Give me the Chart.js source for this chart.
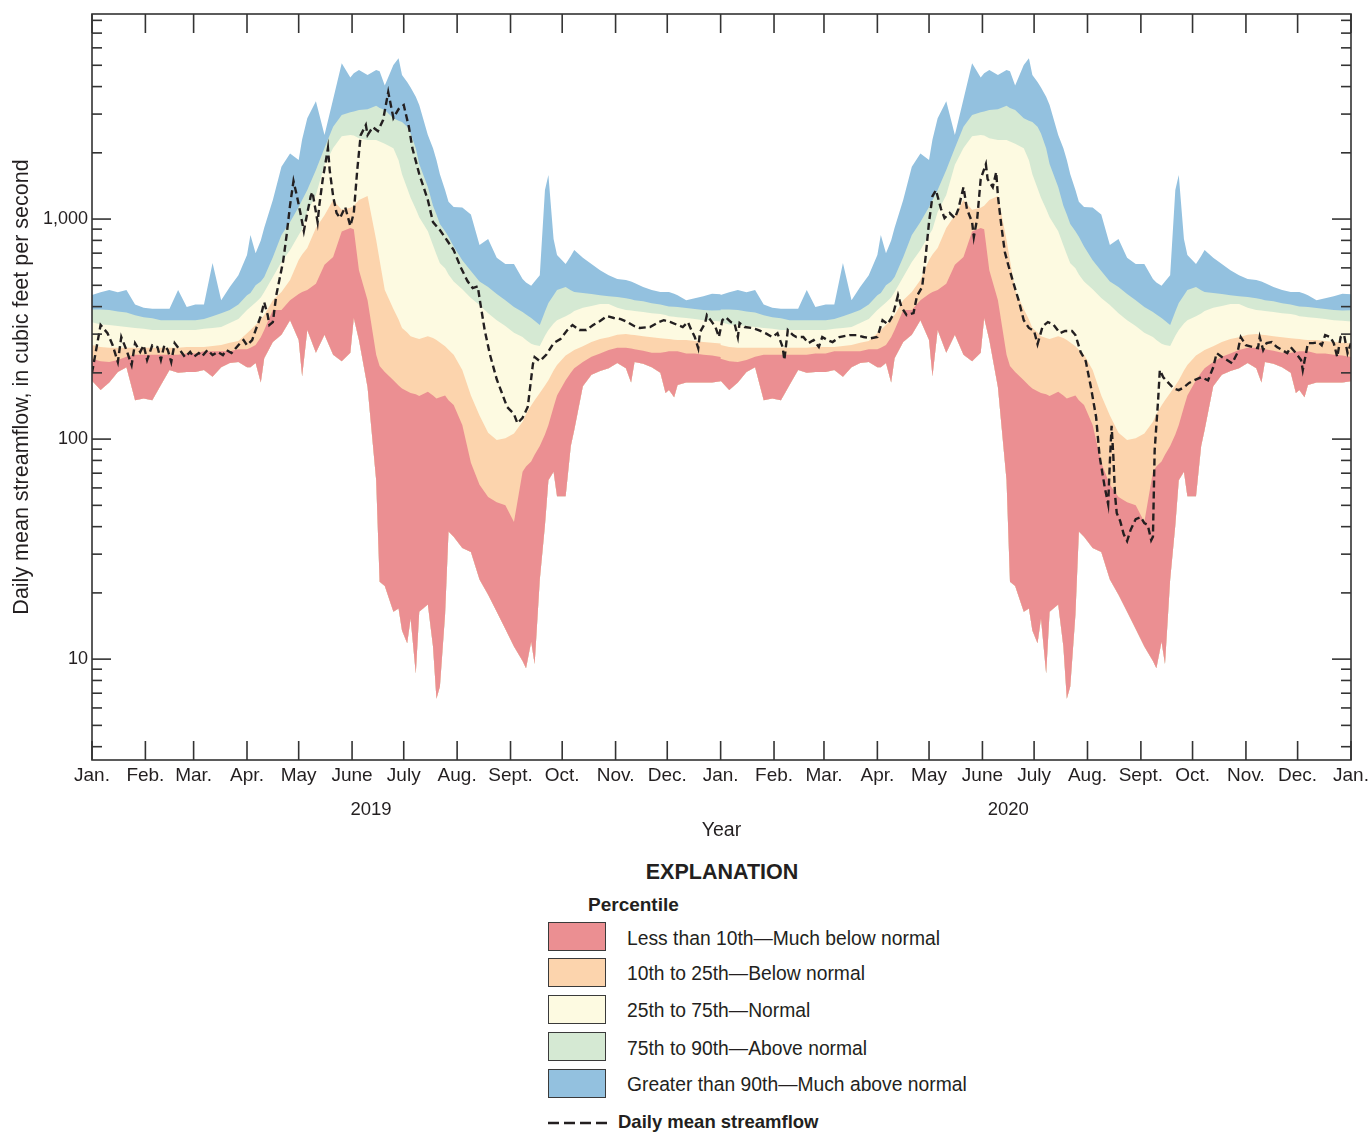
<!DOCTYPE html>
<html><head><meta charset="utf-8">
<script src="https://cdn.jsdelivr.net/npm/chart.js@4.4.1/dist/chart.umd.min.js"></script>
<style>
body{margin:0;background:#fff;}
#wrap{position:relative;width:1370px;height:1133px;font-family:"Liberation Sans",Arial,sans-serif;color:#231f20;overflow:hidden;}
#cv{position:absolute;left:0;top:0;}
.lg{position:absolute;white-space:nowrap;line-height:1;}
.box{position:absolute;left:548px;width:58px;height:29px;box-sizing:border-box;border:1.5px solid #3a3a3a;}
</style></head>
<body><div id="wrap">
<canvas id="cv" width="1370" height="850"></canvas>
<div class="lg" style="left:622px;width:200px;text-align:center;top:862px;font-weight:bold;font-size:21.5px;">EXPLANATION</div>
<div class="lg" style="left:588px;top:895px;font-weight:bold;font-size:19px;">Percentile</div>
<div class="box" style="top:922px;background:#eb8f92"></div>
<div class="box" style="top:958px;background:#fcd4ad"></div>
<div class="box" style="top:995px;background:#fdfae1"></div>
<div class="box" style="top:1032px;background:#d5e9d3"></div>
<div class="box" style="top:1069px;background:#93c1df"></div>
<div class="lg" style="left:627px;top:929px;font-size:19.3px;">Less than 10th—Much below normal</div>
<div class="lg" style="left:627px;top:964px;font-size:19.3px;">10th to 25th—Below normal</div>
<div class="lg" style="left:627px;top:1001px;font-size:19.3px;">25th to 75th—Normal</div>
<div class="lg" style="left:627px;top:1039px;font-size:19.3px;">75th to 90th—Above normal</div>
<div class="lg" style="left:627px;top:1075px;font-size:19.3px;">Greater than 90th—Much above normal</div>
<svg style="position:absolute;left:548px;top:1118px" width="62" height="10"><line x1="0" y1="5" x2="60" y2="5" stroke="#231f20" stroke-width="2.4" stroke-dasharray="11,5"/></svg>
<div class="lg" style="left:618px;top:1113px;font-weight:bold;font-size:18.5px;">Daily mean streamflow</div>
</div>
<script>
// ---------- axis / label data ----------
const monthLabels = ['Jan.','Feb.','Mar.','Apr.','May','June','July','Aug.','Sept.','Oct.','Nov.','Dec.',
                     'Jan.','Feb.','Mar.','Apr.','May','June','July','Aug.','Sept.','Oct.','Nov.','Dec.','Jan.'];
const monthStartDays = [0,31,59,90,120,151,181,212,243,273,304,334,365,396,425,456,486,517,547,578,609,639,670,700,731];
const yearLabels = ['2019','2020'];
const yearLabelDays = [162,532];
const yLabelValues = [10,100,1000];
const yLabelTexts = ['10','100','1,000'];
const yTickValues = [4,5,6,7,8,9,10,20,30,40,50,60,70,80,90,100,200,300,400,500,600,700,800,900,1000,2000,3000,4000,5000,6000,7000,8000];

// ---------- daily percentile statistics (by day of year) ----------
const bandDoy = [0,5,10,15,20,25,30,35,40,45,50,55,60,65,70,75,80,85,90,92,95,98,100,105,110,115,120,122,125,130,135,140,145,150,152,155,160,165,167,170,175,178,180,183,185,188,190,195,198,200,202,205,207,210,215,220,225,230,235,240,245,250,252,255,257,260,263,265,268,270,275,278,280,285,290,295,300,305,310,313,315,320,325,330,333,335,338,340,345,350,355,360,365];
const bandMax = [452,465,476,465,476,409,395,391,391,391, 476,398,409,409,631,428,491,555,687,847, 699,800,914,1220,1730,1984,1854,2300,2871,3429, 2408,3500,5100,4400,4600,4756,4510,4756,4700,4050, 5012,5380,4510,4200,3960,3600,3300,2408,2100,1854, 1600,1354,1200,1136,1130,1050,762,812,667,625, 625,534,515,498,520,555,1354,1585,812,687, 625,680,723,667,625,586,555,534,528,520, 512,491,476,466,466,466,458,451,428,437, 446,458,455];
const bandP90 = [388,388,386,380,376,365,358,354,347,347, 347,347,347,351,362,373,386,409,451,461, 500,520,545,670,847,970,1136,1220,1354,1670, 2102,2627,2970,3060,3080,3129,3159,3270,3200,3129, 2871,2800,2760,2627,2450,2100,1780,1400,1150,1050, 950,880,830,750,650,580,520,491,457,428, 398,378,368,355,345,330,380,415,450,476, 491,475,466,461,457,451,446,442,437,432, 428,423,414,409,404,400,399,398,394,390, 386,384,385];
const bandP75 = [340,332,330,327,323,320,317,313,313,313, 313,313,313,317,320,323,337,351,386,398, 418,440,466,545,638,723,847,900,1076,1288, 1766,2102,2380,2408,2400,2330,2286,2286,2250,2200, 2100,1850,1600,1380,1250,1110,1020,880,760,690, 630,598,560,520,480,438,407,373,347,327, 304,291,282,271,268,265,295,313,335,347, 362,372,382,395,403,411,411,395,386,384, 382,378,373,370,366,362,360,358,355,351, 347,345,342];
const bandP25 = [268,262,260,260,260,260,260,260,260,260, 260,262,262,262,265,268,274,279,303,313, 330,350,366,428,466,528,651,690,738,910, 1040,1220,1103,1125,1150,1220,1272,803,650,476, 390,350,320,305,293,288,285,293,288,282, 275,264,255,242,206,158,128,107,99,101, 106,120,130,142,150,162,175,185,205,217, 240,248,254,264,276,285,290,298,300,298, 297,293,290,287,286,285,283,282,282,279, 276,274,272];
const bandP10 = [232,226,224,229,237,242,242,242,242,242, 242,245,245,251,251,251,251,256,256,260, 268,290,313,386,386,428,457,466,476,508, 620,672,879,910,900,586,428,242,215,202, 185,175,170,165,162,160,157,164,158,153, 155,158,150,143,116,78,62,54.6,51.6,50, 42,71,75,79,85,93,105,116,140,158, 185,200,210,224,237,245,254,260,260,258, 256,252,247,247,249,251,251,251,245,245, 242,240,236];
const bandMin = [184,167,181,202,212,150,153,150,176,206, 200,202,202,206,192,212,222,224,212,212, 222,181,233,276,298,347,282,193,313,247, 298,242,226,247,355,282,172,65,22.5,21.5, 16.4,17,13.5,11.8,15.3,8.6,16.4,17.7,11.4,6.6, 7.5,16,38,36,32,30.7,23,19.6,16.4,13.7, 11.4,9.8,9.1,12,9.5,23,40.7,65,71,55, 55,93,110,174,196,204,210,222,210,181, 224,220,212,200,162,167,155,176,181,181, 181,181,183];

// ---------- daily mean streamflow (day 0 = Jan. 1, 2019) ----------
const flowDays = [0,5,9,12,15,17,20,23,25,28,30,32,35,38,40,42,44,46,48,51,54,57,59,62,64,67,70,73,76,78,81,86,88,90,93,95,98,100,102,103,105,107,109,111,113,115,117,119,121,123,125,127,128,131,132,134,137,138,140,142,144,147,150,152,154,156,159,160,163,166,169,172,175,178,181,184,186,190,195,198,202,206,210,214,218,221,224,225,228,231,235,238,241,245,247,250,253,256,257,260,264,268,272,276,279,283,287,291,295,299,303,307,311,315,318,324,329,332,336,340,343,346,348,350,352,353,356,357,360,362,364,
 366,368,371,373,375,376,379,383,387,391,395,398,401,402,404,407,409,413,416,419,422,424,427,430,434,440,444,448,452,456,459,462,465,468,470,473,477,479,482,484,486,488,490,493,495,498,501,503,506,508,511,512,514,516,519,520,523,525,526,528,530,532,535,538,541,544,547,549,552,555,558,562,565,569,571,574,577,580,583,585,588,590,591,592,593,594,595,597,599,601,603,606,609,611,613,615,616,617,619,620,622,625,628,631,634,637,640,644,648,651,653,656,659,662,665,667,670,674,677,678,680,682,685,688,691,694,696,699,702,703,706,709,712,714,716,719,721,723,725,727,729,731];
const flowValues = [200,330,303,267,224,291,254,217,273,249,267,229,267,262,229,267,254,224,273,254,236,249,236,246,238,254,241,249,241,254,246,273,282,267,282,313,362,419,366,330,340,451,539,644,846,1158,1488,1272,1065,882,1065,1272,1327,969,1158,1520,2102,1670,1272,1065,1010,1134,930,1065,1670,2408,2675,2408,2620,2512,2818,3777,2878,3162,3298,2620,2102,1602,1220,969,891,803,723,605,523,486,495,437,313,243,187,162,140,130,118,125,140,219,236,226,243,273,285,313,330,313,313,330,344,362,355,351,340,326,320,323,340,347,340,330,323,340,313,291,259,306,337,366,340,323,291,
 347,358,340,337,291,337,323,320,313,303,291,303,262,229,313,297,291,291,273,282,262,291,282,276,291,297,297,291,287,291,347,333,366,451,398,366,374,447,491,672,969,1272,1354,1110,1010,1065,1010,1110,1397,1110,969,828,1010,1520,1778,1520,1397,1636,1272,930,708,618,512,428,347,320,310,270,326,340,333,303,310,310,297,249,226,172,126,84,60.5,50.6,79,115,84,55.6,46,42.4,37,34.4,38.6,43.3,44.2,41.5,40.7,34.7,36,89,150,206,191,180,170,167,172,180,185,191,185,212,246,236,229,221,246,291,267,262,259,291,254,273,276,262,254,246,262,246,229,206,273,273,276,267,297,291,273,236,291,297,246,273];

// ---------- build series ----------
function bandSeries(vals){
  const pts = [];
  [0,1].forEach(yr => bandDoy.forEach((d,i) => {
    const day = yr === 0 ? d : 365 + d + (d >= 59 ? 1 : 0);
    pts.push({x: day, y: vals[i]});
  }));
  return pts;
}
const flowPts = flowDays.map((d,i) => ({x: d, y: flowValues[i]}));

const FONT = '"Liberation Sans", Arial, sans-serif';
const INK = '#231f20';

const framePlugin = {
  id: 'frame',
  afterDraw(chart){
    const {ctx, chartArea: a, scales: {x, y}} = chart;
    ctx.save();
    ctx.strokeStyle = '#333333';
    ctx.lineWidth = 1.6;
    const line = (x1,y1,x2,y2) => { ctx.beginPath(); ctx.moveTo(x1,y1); ctx.lineTo(x2,y2); ctx.stroke(); };
    ctx.strokeRect(a.left, a.top, a.right - a.left, a.bottom - a.top);
    monthStartDays.forEach(d => {
      const px = x.getPixelForValue(d);
      line(px, a.top, px, a.top + 19);
      line(px, a.bottom, px, a.bottom - 19);
    });
    yTickValues.forEach(v => {
      const py = y.getPixelForValue(v);
      if (py < a.top + 1 || py > a.bottom - 1) return;
      const L = yLabelValues.includes(v) ? 19 : 10;
      line(a.left, py, a.left + L, py);
      line(a.right, py, a.right - L, py);
    });
    ctx.fillStyle = INK;
    ctx.textAlign = 'center';
    ctx.textBaseline = 'middle';
    ctx.font = '18.5px ' + FONT;
    yearLabels.forEach((t,i) => ctx.fillText(t, x.getPixelForValue(yearLabelDays[i]), 810));
    ctx.font = '19.5px ' + FONT;
    ctx.fillText('Year', (a.left + a.right) / 2, 831);
    ctx.translate(22, (a.top + a.bottom) / 2);
    ctx.rotate(-Math.PI / 2);
    ctx.font = '21.5px ' + FONT;
    ctx.fillText('Daily mean streamflow, in cubic feet per second', 0, 0);
    ctx.restore();
  }
};

const band = (label, vals, color) => ({
  label, data: bandSeries(vals), backgroundColor: color, borderWidth: 0,
  pointRadius: 0, fill: 6, tension: 0
});

new Chart(document.getElementById('cv'), {
  type: 'line',
  data: {
    datasets: [
      {label: 'Daily mean streamflow', data: flowPts, borderColor: INK, borderWidth: 2.4,
       borderDash: [7,4], pointRadius: 0, fill: false, tension: 0},
      band('Less than 10th—Much below normal', bandP10, '#eb8f92'),
      band('10th to 25th—Below normal', bandP25, '#fcd4ad'),
      band('25th to 75th—Normal', bandP75, '#fdfae1'),
      band('75th to 90th—Above normal', bandP90, '#d5e9d3'),
      band('Greater than 90th—Much above normal', bandMax, '#93c1df'),
      {label: 'minimum', data: bandSeries(bandMin), borderWidth: 0, pointRadius: 0, fill: false}
    ]
  },
  options: {
    responsive: false, animation: false, devicePixelRatio: 1,
    layout: {padding: {top: 14, right: 19, left: 0, bottom: 0}},
    plugins: {legend: {display: false}, tooltip: {enabled: false}},
    scales: {
      x: {
        type: 'linear', min: 0, max: 731,
        grid: {display: false, drawTicks: false}, border: {display: false},
        afterBuildTicks: s => { s.ticks = monthStartDays.map(v => ({value: v})); },
        afterFit: s => { s.height = 90; s.paddingLeft = 0; s.paddingRight = 0; },
        ticks: {autoSkip: false, maxRotation: 0, minRotation: 0, padding: 4, color: INK,
                font: {family: FONT, size: 19}, callback: (v, i) => monthLabels[i]}
      },
      y: {
        type: 'logarithmic', min: 3.48, max: 8550,
        grid: {display: false, drawTicks: false}, border: {display: false},
        afterBuildTicks: s => { s.ticks = yTickValues.map(v => ({value: v})); },
        afterFit: s => { s.width = 92; s.paddingTop = 0; s.paddingBottom = 0; },
        ticks: {autoSkip: false, padding: 4, color: INK, font: {family: FONT, size: 18},
                callback: v => { const k = yLabelValues.indexOf(v); return k >= 0 ? yLabelTexts[k] : ''; }}
      }
    }
  },
  plugins: [framePlugin]
});
</script>
</body></html>
